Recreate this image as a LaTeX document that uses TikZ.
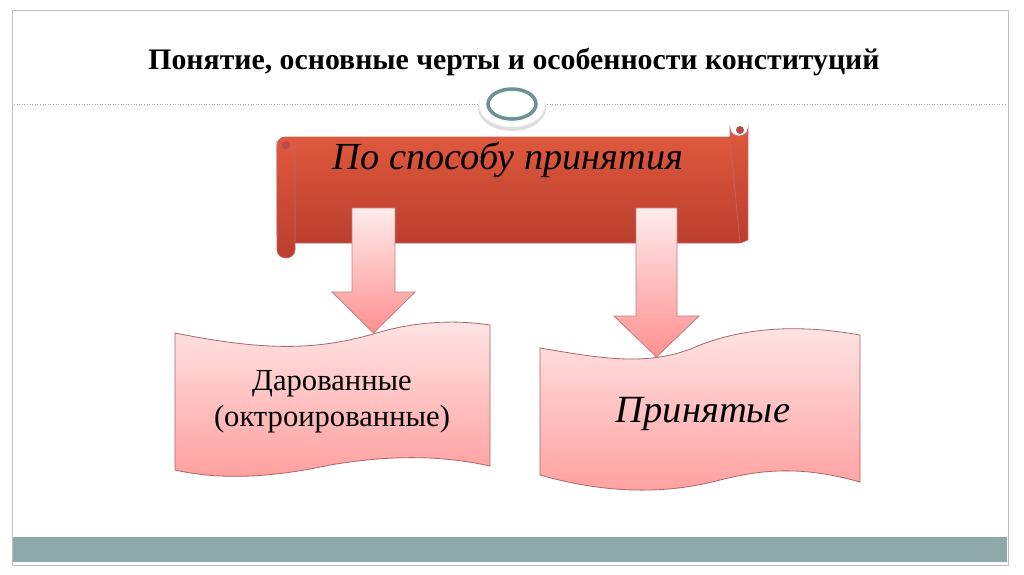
\documentclass[tikz,border=0pt]{standalone}
\usepackage{fontspec}
\setmainfont{Liberation Serif}
\definecolor{band}{RGB}{143,169,170}
\definecolor{ring}{RGB}{110,145,150}
\definecolor{scrtop}{RGB}{222,88,60}
\definecolor{scrbot}{RGB}{186,62,46}
\begin{document}
\begin{tikzpicture}[x=1pt,y=-1pt,
  pinkbox/.style={draw=red!45!black!60,line width=0.8pt,top color=pink!40!white,bottom color=red!30!pink!80},
  arrowshape/.style={draw=red!50!black!50,line width=0.8pt,top color=pink!30!white,bottom color=red!35!pink!85},
  redscroll/.style={draw=red!60!black!60,line width=0.6pt,top color=scrtop,bottom color=scrbot}]
\useasboundingbox (0,0) rectangle (1024,574);
\fill[white] (0,0) rectangle (1024,574);
\draw[gray!50,line width=0.8pt] (12,10) rectangle (1008,565);
\fill[band] (13,537) rectangle (1007,562);
\node[font=\bfseries\fontsize{29.8}{34}\selectfont] (title) at (514,62) {Понятие, основные черты и особенности конституций};
\draw[dotted,gray!70,line width=0.6pt] (14,104) -- (1007,104);
\fill[gray!25] (512,108) ellipse (34 and 23);
\fill[white] (512,105) ellipse (33 and 22);
\draw[ring,line width=3.5pt] (512,104) ellipse (24 and 15);
% scroll
\path[redscroll,rounded corners=8pt] (277,137) -- (747,137) -- (747,243) -- (277,243) -- cycle;
\path[redscroll] (730,137) -- (730,128) arc[start angle=180,end angle=0,x radius=9,y radius=8] -- (748,240) -- (740,243) -- cycle;
\path[redscroll] (277,143) arc[start angle=180,end angle=0,x radius=9,y radius=8] -- (295,250) arc[start angle=0,end angle=180,x radius=9,y radius=8] -- cycle;
\fill[red!60!black!70] (286,145) circle (4);
\fill[red!60!black!70] (740,130) circle (4);
\node[font=\itshape\fontsize{38.3}{42}\selectfont] (head) at (508,160) {По способу принятия};
% boxes
\path[pinkbox] (175,333) .. controls (270,352) and (320,350) .. (380,332) .. controls (430,318) and (470,322) .. (490,325)
  -- (490,466) .. controls (440,455) and (390,455) .. (330,465) .. controls (270,478) and (220,480) .. (175,470) -- cycle;
\path[pinkbox] (540,348) .. controls (600,358) and (650,368) .. (700,345) .. controls (760,322) and (820,328) .. (860,335)
  -- (860,482) .. controls (800,465) and (760,470) .. (720,480) .. controls (660,496) and (600,492) .. (540,475) -- cycle;
\node[align=center,font=\fontsize{30.6}{36}\selectfont] (b1) at (332,402) {Дарованные\\(октроированные)};
\node[font=\itshape\fontsize{38.5}{42}\selectfont] (b2) at (703,414) {Принятые};
% arrows
\path[arrowshape] (352,208) -- (395,208) -- (395,292) -- (415,292) -- (373.5,333) -- (332,292) -- (352,292) -- cycle;
\path[arrowshape] (636,208) -- (677,208) -- (677,316) -- (699,316) -- (656.5,357) -- (614,316) -- (636,316) -- cycle;
\end{tikzpicture}
\end{document}
